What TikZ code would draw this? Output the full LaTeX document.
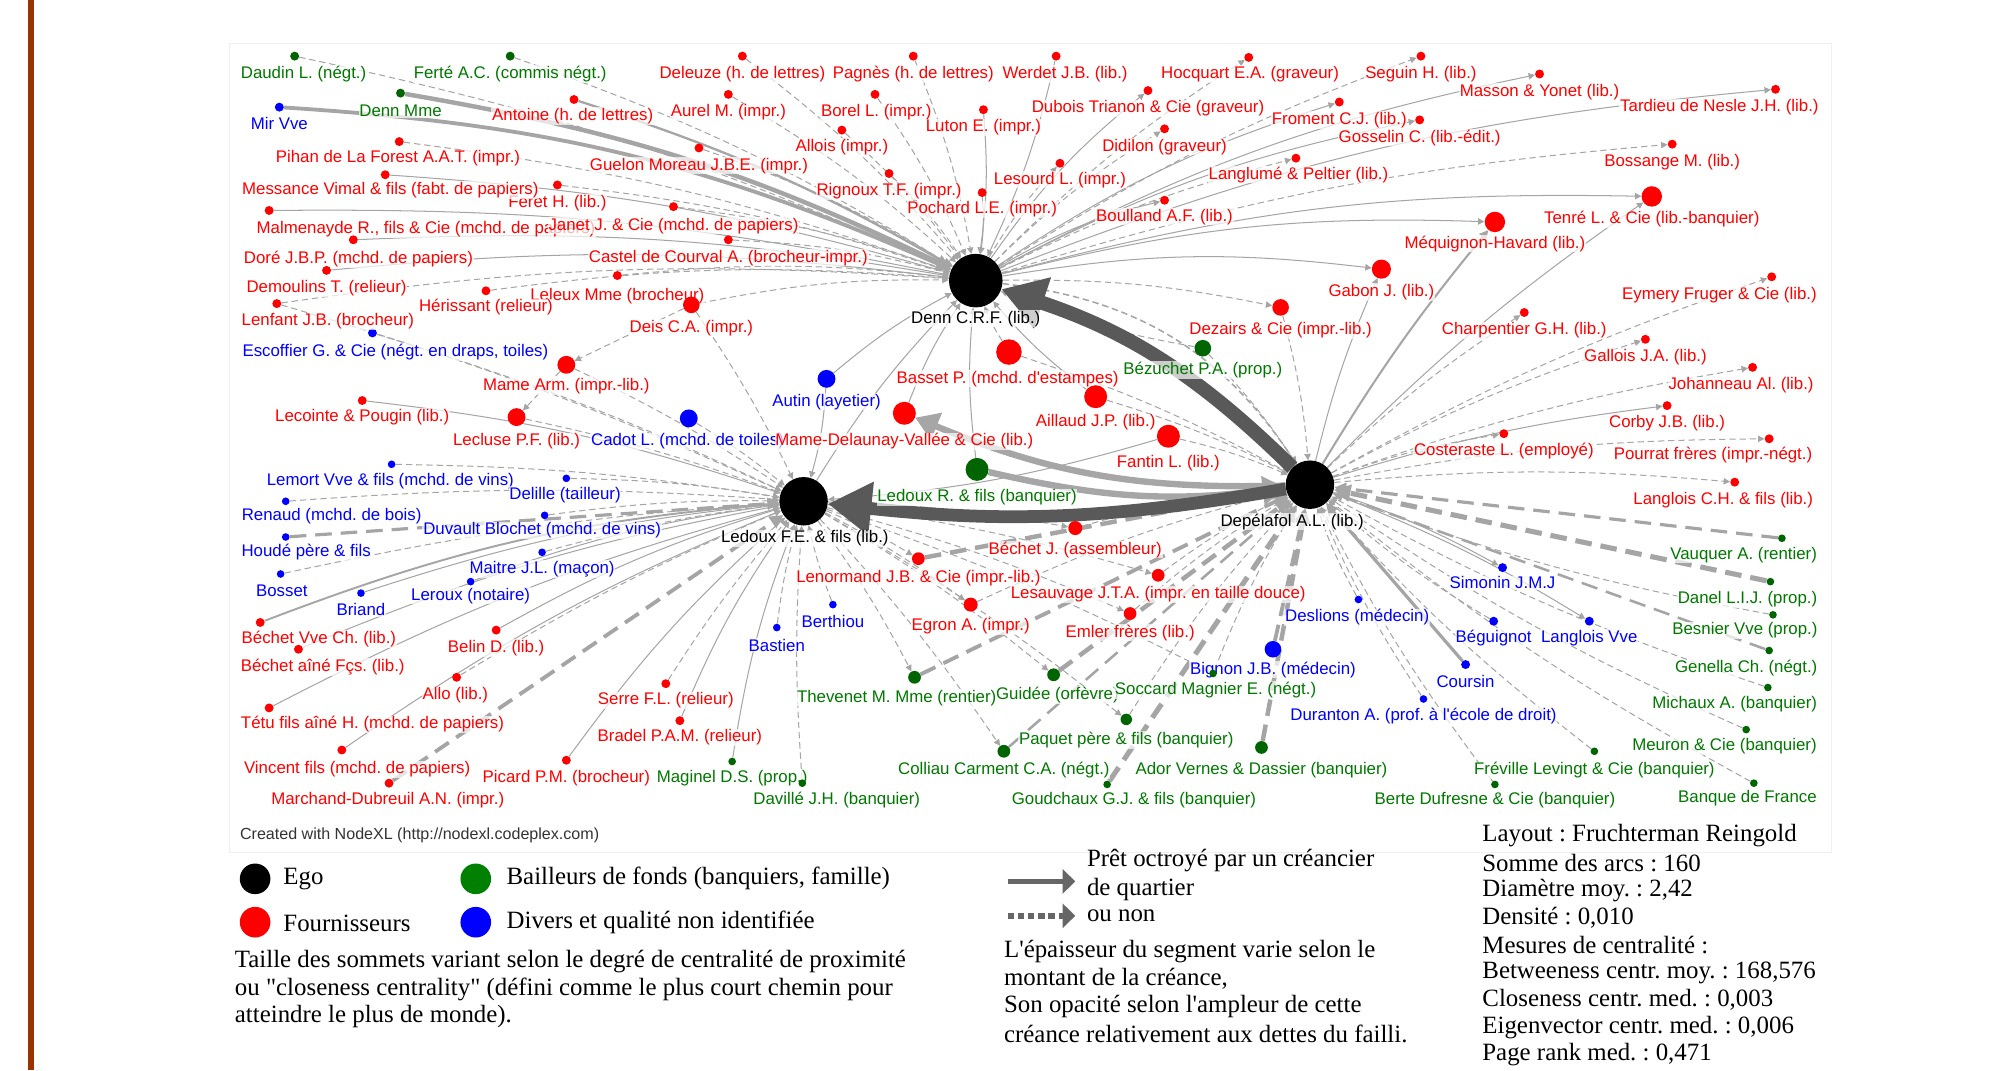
\documentclass[tikz,border=0pt]{standalone}
\usepackage{fontspec}
\setmainfont{Liberation Serif}
\setsansfont{Liberation Sans}
\usetikzlibrary{arrows.meta,backgrounds}
\definecolor{nxred}{RGB}{255,0,0}
\definecolor{nxgreen}{RGB}{0,100,0}
\definecolor{nxgreentxt}{RGB}{0,120,0}
\definecolor{nxblue}{RGB}{0,0,255}
\definecolor{legreen}{RGB}{0,128,0}
\definecolor{barbrown}{RGB}{153,51,0}
\definecolor{edgegray}{RGB}{165,165,165}

\tikzset{
  vx/.style={circle, draw=none, inner sep=0pt, minimum size=#1},
  lbl/.style={font=\sffamily\fontsize{13.2}{14}\selectfont, inner sep=0.6pt, fill=white, fill opacity=0.7, text opacity=1},
  qt/.style={draw=edgegray, line width=#1, -{Triangle[length=3pt 2.5,width=3pt 2.5]}},
  qt/.default=0.8pt,
  nq/.style={qt=#1, dash pattern=on 5pt off 3pt},
  nq/.default=0.8pt,
  nqb/.style={qt=#1, dash pattern=on 13pt off 7pt},
  bigloan/.style={draw=black!65, line width=#1, -{Triangle[length=34pt,width=40pt]}},
  midloan/.style={draw=black!35, line width=#1, -{Triangle[length=18pt,width=22pt]}},
  leg/.style={font=\fontsize{19.5}{21.5}\selectfont, anchor=west, inner sep=0pt},
}

\begin{document}
\frenchspacing
\begin{tikzpicture}[x=1pt, y=-1pt]
\useasboundingbox (0,0) rectangle (1568,839);
\fill[barbrown] (22,0) rectangle (27,839);
\draw[gray!12] (180,34) rectangle (1436,668);

% egos
\node[vx=42pt, fill=black] (denn) at (765,220) {};
\node[vx=38pt, fill=black] (ledoux) at (630,393) {};
\node[vx=38pt, fill=black] (depel) at (1027,380) {};

% divers
\foreach \n/\x/\y/\sz/\lx/\ly/\txt in {
  mirvve/219/84/7/219/97/{Mir Vve},
  escoffier/292/261/7/310/276/{Escoffier G. \& Cie (négt. en draps, toiles)},
  autin/648/297/14/648/315/{Autin (layetier)},
  cadot/540/328/14/539/346/{Cadot L. (mchd. de toiles)},
  lemort/307/364/6/306/377/{Lemort Vve \& fils (mchd. de vins)},
  delille/444/375/6/443/388/{Delille (tailleur)},
  renaud/224/393/6/260/405/{Renaud (mchd. de bois)},
  duvault/427/404/6/425/416/{Duvault Blochet (mchd. de vins)},
  houde/224/421/6/240/433/{Houdé père \& fils},
  maitre/425/433/6/425/446/{Maitre J.L. (maçon)},
  bosset/220/450/6/221/463/{Bosset},
  leroux/369/456/6/369/467/{Leroux (notaire)},
  briand/283/465/6/283/478/{Briand},
  berthiou/653/474/6/653/487/{Berthiou},
  bastien/609/492/6/609/506/{Bastien},
  simonin/1178/445/7/1178/457/{Simonin J.M.J},
  deslions/1065/470/6/1064/484/{Deslions (médecin)},
  beguignot/1171/487/7/1171/500/{Béguignot},
  langloisvve/1246/487/7/1246/500/{Langlois Vve},
  bignon/998/509/13/998/525/{Bignon J.B. (médecin)},
  coursin/1149/521/7/1149/534/{Coursin},
  duranton/1116/548/6/1116/561/{Duranton A. (prof. à l\textquotesingle école de droit)}}{
  \node[vx=\sz pt, fill=nxblue] (\n) at (\x,\y) {};
  \node[lbl, text=nxblue] (\n-l) at (\lx,\ly) {\txt};
}

% bailleurs de fonds
\foreach \n/\x/\y/\sz/\lx/\ly/\txt in {
  daudin/231/44/7/238/58/{Daudin L. (négt.)},
  ferte/400/44/7/400/58/{Ferté A.C. (commis négt.)},
  dennmme/314/73/7/314/87/{Denn Mme},
  bezuchet/943/273/13/943/290/{Bézuchet P.A. (prop.)},
  ledouxr/766/368/18/766/390/{Ledoux R. \& fils (banquier)},
  vauquer/1397/422/6/1367/435/{Vauquer A. (rentier)},
  danel/1388/456/6/1370/470/{Danel L.I.J. (prop.)},
  besnier/1390/482/6/1368/494/{Besnier Vve (prop.)},
  genella/1387/510/6/1369/524/{Genella Ch. (négt.)},
  michaux/1386/539/6/1360/552/{Michaux A. (banquier)},
  meuron/1369/572/6/1352/585/{Meuron \& Cie (banquier)},
  banque/1375/614/6/1370/626/{Banque de France},
  freville/1250/589/6/1250/604/{Fréville Levingt \& Cie (banquier)},
  berte/1172/615/6/1172/627/{Berte Dufresne \& Cie (banquier)},
  thevenet/717/531/10/703/547/{Thevenet M. Mme (rentier)},
  guidee/826/529/10/829/545/{Guidée (orfèvre)},
  soccard/951/528/6/953/541/{Soccard Magnier E. (négt.)},
  paquet/883/564/9/883/580/{Paquet père \& fils (banquier)},
  colliau/787/589/10/787/604/{Colliau Carment C.A. (négt.)},
  ador/989/586/10/989/604/{Ador Vernes \& Dassier (banquier)},
  goudchaux/868/615/6/889/627/{Goudchaux G.J. \& fils (banquier)},
  maginel/574/597/6/574/610/{Maginel D.S. (prop.)},
  daville/629/614/6/656/627/{Davillé J.H. (banquier)}}{
  \node[vx=\sz pt, fill=nxgreen] (\n) at (\x,\y) {};
  \node[lbl, text=nxgreentxt] (\n-l) at (\lx,\ly) {\txt};
}

% fournisseurs
\foreach \n/\x/\y/\sz/\lx/\ly/\txt in {
  deleuze/582/44/7/582/58/{Deleuze (h. de lettres)},
  pagnes/716/44/7/716/58/{Pagnès (h. de lettres)},
  werdet/828/44/7/835/58/{Werdet J.B. (lib.)},
  hocquart/979/45/7/980/58/{Hocquart E.A. (graveur)},
  seguin/1114/44/7/1114/58/{Seguin H. (lib.)},
  masson/1207/58/7/1207/72/{Masson \& Yonet (lib.)},
  tardieu/1392/70/7/1348/84/{Tardieu de Nesle J.H. (lib.)},
  antoine/450/78/7/449/91/{Antoine (h. de lettres)},
  aurel/571/74/7/571/88/{Aurel M. (impr.)},
  borel/686/74/7/687/88/{Borel L. (impr.)},
  luton/771/86/7/771/100/{Luton E. (impr.)},
  dubois/900/71/7/900/85/{Dubois Trianon \& Cie (graveur)},
  froment/1050/80/7/1050/94/{Froment C.J. (lib.)},
  gosselin/1113/94/7/1113/108/{Gosselin C. (lib.-édit.)},
  allois/660/102/7/660/115/{Allois (impr.)},
  didilon/913/101/7/913/115/{Didilon (graveur)},
  pihan/313/111/7/312/124/{Pihan de La Forest A.A.T. (impr.)},
  guelon/548/116/7/548/130/{Guelon Moreau J.B.E. (impr.)},
  bossange/1311/113/7/1311/127/{Bossange M. (lib.)},
  langlume/1016/124/7/1018/137/{Langlumé \& Peltier (lib.)},
  rignoux/697/136/7/697/150/{Rignoux T.F. (impr.)},
  lesourd/831/128/7/831/141/{Lesourd L. (impr.)},
  feret/437/145/7/437/159/{Feret H. (lib.)},
  messance/302/137/7/306/149/{Messance Vimal \& fils (fabt. de papiers)},
  pochard/770/151/7/770/164/{Pochard L.E. (impr.)},
  boulland/913/157/7/913/170/{Boulland A.F. (lib.)},
  tenre/1295/154/16/1295/172/{Tenré L. \& Cie (lib.-banquier)},
  malmen/211/165/7/334/180/{Malmenayde R., fils \& Cie (mchd. de papiers)},
  janet/528/162/7/528/177/{Janet J. \& Cie (mchd. de papiers)},
  mequignon/1172/174/16/1172/191/{Méquignon-Havard (lib.)},
  dore/277/188/7/281/203/{Doré J.B.P. (mchd. de papiers)},
  castel/571/188/7/571/202/{Castel de Courval A. (brocheur-impr.)},
  demoulins/256/212/7/256/226/{Demoulins T. (relieur)},
  leleux/484/216/7/484/232/{Leleux Mme (brocheur)},
  gabon/1083/211/15/1083/229/{Gabon J. (lib.)},
  eymery/1389/217/7/1348/231/{Eymery Fruger \& Cie (lib.)},
  herissant/381/228/7/381/241/{Hérissant (relieur)},
  deis/542/239/13/542/257/{Deis C.A. (impr.)},
  dezairs/1004/241/13/1004/259/{Dezairs \& Cie (impr.-lib.)},
  charpentier/1195/245/7/1195/259/{Charpentier G.H. (lib.)},
  lenfant/217/238/7/257/252/{Lenfant J.B. (brocheur)},
  basset/791/276/20/790/297/{Basset P. (mchd. d\textquotesingle estampes)},
  mamearm/444/286/14/444/303/{Mame Arm. (impr.-lib.)},
  gallois/1290/266/7/1290/280/{Gallois J.A. (lib.)},
  johanneau/1374/288/7/1365/302/{Johanneau Al. (lib.)},
  lecointe/284/314/7/284/327/{Lecointe \& Pougin (lib.)},
  lecluse/405/327/14/405/346/{Lecluse P.F. (lib.)},
  aillaud/859/311/18/859/331/{Aillaud J.P. (lib.)},
  mamedel/709/324/18/709/346/{Mame-Delaunay-Vallée \& Cie (lib.)},
  corby/1307/318/7/1307/332/{Corby J.B. (lib.)},
  fantin/916/342/18/916/363/{Fantin L. (lib.)},
  costeraste/1179/340/7/1179/354/{Costeraste L. (employé)},
  pourrat/1387/344/7/1343/357/{Pourrat frères (impr.-négt.)},
  langloisch/1360/378/7/1351/392/{Langlois C.H. \& fils (lib.)},
  bechetj/843/414/11/843/431/{Béchet J. (assembleur)},
  lenormand/720/438/10/720/453/{Lenormand J.B. \& Cie (impr.-lib.)},
  lesauvage/908/451/10/908/466/{Lesauvage J.T.A. (impr. en taille douce)},
  egron/761/474/11/761/491/{Egron A. (impr.)},
  emler/886/481/10/886/496/{Emler frères (lib.)},
  bechetvve/204/488/7/250/501/{Béchet Vve Ch. (lib.)},
  belin/389/494/7/389/508/{Belin D. (lib.)},
  bechetaine/234/509/7/253/523/{Béchet aîné Fçs. (lib.)},
  allo/358/531/7/357/545/{Allo (lib.)},
  serre/522/536/7/522/549/{Serre F.L. (relieur)},
  tetu/211/555/7/292/568/{Tétu fils aîné H. (mchd. de papiers)},
  bradel/533/565/7/533/578/{Bradel P.A.M. (relieur)},
  vincent/268/588/7/280/603/{Vincent fils (mchd. de papiers)},
  picard/444/596/7/444/610/{Picard P.M. (brocheur)},
  marchand/305/614/7/304/627/{Marchand-Dubreuil A.N. (impr.)}}{
  \node[vx=\sz pt, fill=nxred] (\n) at (\x,\y) {};
  \node[lbl, text=nxred] (\n-l) at (\lx,\ly) {\txt};
}

\node[lbl] (denn-l) at (765,250) {Denn C.R.F. (lib.)};
\node[lbl] (ledoux-l) at (631,422) {Ledoux F.E. \& fils (lib.)};
\node[lbl] (depel-l) at (1013,409) {Depélafol A.L. (lib.)};

\begin{pgfonlayer}{background}
  % Denn C.R.F.
  \foreach \a in {daudin,ferte,deleuze,pagnes,aurel,borel,allois,rignoux,pihan,guelon,feret,janet,castel,leleux,herissant,lenfant,deis,bezuchet,basset}
    \draw[nq] (\a) to[bend left=6] (denn);
  \foreach \b in {hocquart,seguin,didilon,lesourd,langlume,bossange,dezairs}
    \draw[nq] (denn) to[bend left=6] (\b);
  \foreach \a in {werdet,luton,pochard,messance,malmen,dore,demoulins,mamedel,ledouxr,aillaud,autin,ledoux}
    \draw[qt] (\a) to[bend left=6] (denn);
  \foreach \b in {dubois,froment,masson,tardieu,gosselin,boulland,tenre,mequignon,gabon}
    \draw[qt] (denn) to[bend left=8] (\b);
  \draw[qt=3pt] (mirvve) to[bend left=10] (denn);
  \draw[qt=3.5pt] (dennmme) to[bend left=8] (denn);
  \draw[qt=1.8pt] (antoine) to[bend left=6] (denn);
  \draw[nq=1.2pt] (denn) to[bend left=25] (depel);
  % Depelafol A.L.
  \foreach \b in {eymery,charpentier,johanneau,costeraste,pourrat,langloisch,gallois}
    \draw[nq] (depel) to[bend left=5] (\b);
  \foreach \a in {besnier,michaux,meuron,banque,freville,berte,beguignot,duranton,deslions,paquet,soccard,lesauvage,emler,egron,bechetj,aillaud,basset,bezuchet,dezairs,fantin}
    \draw[nq] (\a) to[bend left=5] (depel);
  \foreach \b in {corby,simonin,langloisvve,tenre,gabon}
    \draw[qt] (depel) to[bend left=5] (\b);
  \draw[qt=1.6pt] (depel) to[bend left=4] (mequignon);
  \draw[nqb=2.5pt] (vauquer) -- (depel);
  \draw[nqb=4pt] (danel) -- (depel);
  \draw[nqb=2pt] (genella) -- (depel);
  \draw[nqb=3pt] (thevenet) -- (depel);
  \draw[nqb=3.5pt] (guidee) -- (depel);
  \draw[nqb=4pt] (goudchaux) -- (depel);
  \draw[nqb=3.5pt] (ador) -- (depel);
  \draw[nqb=3.5pt] (lenormand) -- (depel);
  \draw[nqb=3pt] (bignon) -- (depel);
  \draw[nqb=2pt] (colliau) -- (depel);
  \draw[qt=2.5pt] (coursin) -- (depel);
  % Ledoux F.E. & fils
  \foreach \a in {lemort,delille,renaud,duvault,maitre,bosset,escoffier,lenfant,mamearm,lecluse,cadot,deis,allo,serre,bastien,berthiou,daville}
    \draw[nq] (\a) to[bend left=4] (ledoux);
  \foreach \b in {lenormand,egron,colliau,paquet,soccard,thevenet,bechetj,lesauvage,emler,guidee}
    \draw[nq] (ledoux) to[bend left=4] (\b);
  \foreach \a in {lecointe,bechetaine,tetu,vincent,picard,bradel,maginel,briand,leroux,autin,fantin,belin}
    \draw[qt] (\a) to[bend left=6] (ledoux);
  \draw[qt=1.5pt] (bechetvve) to[bend left=8] (ledoux);
  \draw[nqb=2.5pt] (houde) -- (ledoux);
  \draw[nqb=3pt] (marchand) -- (ledoux);
  \draw[nq] (mamearm) -- (lecluse);
  \draw[nq] (deis) -- (mamearm);
  % main loans
  \draw[midloan=5pt] (depel) to[bend left=12] (mamedel);
  \draw[midloan=5pt] (ledouxr) to[bend right=10] (depel);
  \draw[bigloan=11pt] (depel) to[bend right=13] (denn);
  \draw[bigloan=10pt] (depel) to[bend left=8] (ledoux);
\end{pgfonlayer}

% legend
\node[font=\sffamily\fontsize{12.6}{14}\selectfont, text=black!80, anchor=west, inner sep=0pt] (credit) at (188,655) {Created with NodeXL (http://nodexl.codeplex.com)};
\node[vx=24pt, fill=black] (k-ego) at (200,689) {};
\node[leg] (k-ego-t) at (222,689) {Ego};
\node[vx=24pt, fill=legreen] (k-bf) at (373,689) {};
\node[leg] (k-bf-t) at (397,689) {Bailleurs de fonds (banquiers, famille)};
\node[vx=24pt, fill=nxred] (k-fo) at (200,723) {};
\node[leg] (k-fo-t) at (222,724) {Fournisseurs};
\node[vx=24pt, fill=nxblue] (k-dv) at (373,723) {};
\node[leg] (k-dv-t) at (397,723) {Divers et qualité non identifiée};
\foreach \txt [count=\i] in {Taille des sommets variant selon le degré de centralité de proximité,
  {ou \textquotedbl closeness centrality\textquotedbl\ (défini comme le plus court chemin pour},
  atteindre le plus de monde).}
  \node[leg] (taille\i) at (184,732.5+21.5*\i) {\txt};

\coordinate (q1) at (790,691);
\coordinate (q2) at (843,691);
\coordinate (n1) at (790,718);
\coordinate (n2) at (843,718);
\draw[draw=black!60, line width=4.5pt, -{Triangle[length=10pt,width=19pt]}] (q1) -- (q2);
\draw[draw=black!60, line width=4.5pt, dash pattern=on 5pt off 3pt, -{Triangle[length=10pt,width=19pt]}] (n1) -- (n2);
\node[leg] (pret1) at (852,675) {Prêt octroyé par un créancier};
\node[leg] (pret2) at (852,697) {de quartier};
\node[leg] (pret3) at (852,718) {ou non};
\foreach \txt [count=\i] in {L\textquotesingle épaisseur du segment varie selon le,
  {montant de la créance,},
  Son opacité selon l\textquotesingle ampleur de cette,
  créance relativement aux dettes du failli.}
  \node[leg] (epais\i) at (787,724.5+21.5*\i) {\txt};

\foreach \txt [count=\i] in {Layout : Fruchterman Reingold,
  Somme des arcs : 160,
  {Diamètre moy. : 2,42},
  {Densité : 0,010},
  Mesures de centralité :,
  {Betweeness centr. moy. : 168,576},
  {Closeness centr. med. : 0,003},
  {Eigenvector centr. med. : 0,006},
  {Page rank med. : 0,471}}
  \node[leg] (stat\i) at (1162,633.5+21.5*\i) {\txt};
\end{tikzpicture}
\end{document}
